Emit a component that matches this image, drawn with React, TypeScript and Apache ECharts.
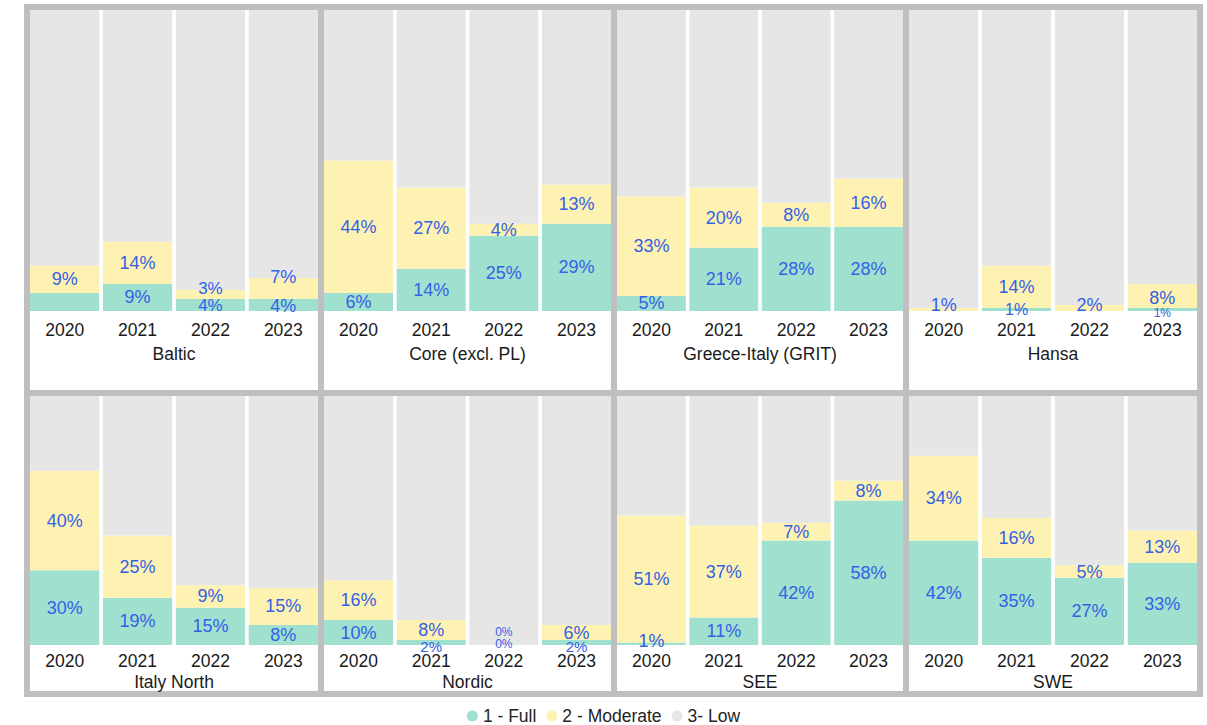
import React, { useEffect, useRef } from "react";
import * as echarts from "echarts";

// ---- data ----
const YEARS = ["2020", "2021", "2022", "2023"];
const REGIONS = [
  "Baltic",
  "Core (excl. PL)",
  "Greece-Italy (GRIT)",
  "Hansa",
  "Italy North",
  "Nordic",
  "SEE",
  "SWE",
];
const SERIES_NAMES = ["1 - Full", "2 - Moderate", "3- Low"];
// percentage of "1 - Full", per region, per year
const FULL_PCT = [
  [6, 9, 4, 4],
  [6, 14, 25, 29],
  [5, 21, 28, 28],
  [0, 1, 0, 1],
  [30, 19, 15, 8],
  [10, 2, 0, 2],
  [1, 11, 42, 58],
  [42, 35, 27, 33],
];
// percentage of "2 - Moderate", per region, per year
const MODERATE_PCT = [
  [9, 14, 3, 7],
  [44, 27, 4, 13],
  [33, 20, 8, 16],
  [1, 14, 2, 8],
  [40, 25, 9, 15],
  [16, 8, 0, 6],
  [51, 37, 7, 8],
  [34, 16, 5, 13],
];

// ---- styling / layout ----
const COLORS = ["#a0e0cf", "#fef2b2", "#e6e6e6"];
const LABEL_COLOR = "#3361e6";
const FONT = "'Liberation Sans', Arial, sans-serif";
const FRAME = "#bfbfbf";
const PANEL_X = [
  [30, 318],
  [324, 611],
  [617, 903],
  [909, 1197],
];
const ROWS = [
  { top: 10, bottom: 311, labelMargin: 10, nameY: 354 },
  { top: 396, bottom: 645, labelMargin: 7, nameY: 682 },
];
// label adjustments keyed "panel-yearIndex-series"
const LABEL_TWEAKS: Record<string, { show?: boolean; fontSize?: number; dy?: number }> = {
  "0-0-0": { show: false },
  "0-2-1": { dy: -6, fontSize: 17 },
  "0-2-0": { dy: 1, fontSize: 17 },
  "0-3-1": { dy: -11 },
  "0-3-0": { dy: 1.5 },
  "3-0-0": { show: false },
  "3-0-1": { dy: -4 },
  "3-1-0": { fontSize: 16 },
  "3-2-0": { show: false },
  "3-2-1": { dy: -3 },
  "3-3-1": { dy: 2 },
  "3-3-0": { fontSize: 12, dy: 3.5 },
  "5-1-0": { fontSize: 15, dy: 3.5 },
  "5-2-0": { fontSize: 12, dy: -1 },
  "5-2-1": { fontSize: 12, dy: -13 },
  "5-3-0": { fontSize: 15, dy: 3.5 },
  "6-0-0": { dy: -3 },
};

export default function App() {
  const ref = useRef<HTMLDivElement>(null);
  useEffect(() => {
    document.body.style.margin = "0";
    if (!ref.current) return;
    const chart = echarts.init(ref.current, undefined, { renderer: "svg" });

    const grids: any[] = [];
    const xAxes: any[] = [];
    const yAxes: any[] = [];
    const series: any[] = [];
    const frame: any[] = [];
    const names: any[] = [];

    REGIONS.forEach((region, p) => {
      const row = ROWS[Math.floor(p / 4)];
      const [x0, x1] = PANEL_X[p % 4];
      const w = x1 - x0;
      const half = ((w / 4) * 0.05) / 2;
      grids.push({
        left: x0 - half,
        width: w + 2 * half,
        top: row.top,
        height: row.bottom - row.top,
      });
      xAxes.push({
        type: "category",
        gridIndex: p,
        data: YEARS,
        axisLine: { show: false },
        axisTick: { show: false },
        axisLabel: {
          color: "#1a1a1a",
          fontSize: 17.5,
          fontFamily: FONT,
          margin: row.labelMargin,
        },
      });
      yAxes.push({
        type: "value",
        gridIndex: p,
        min: 0,
        max: 100,
        show: false,
      });
      const full = FULL_PCT[p];
      const mod = MODERATE_PCT[p];
      const low = YEARS.map((_, i) => 100 - full[i] - mod[i]);
      [full, mod, low].forEach((vals, s) => {
        series.push({
          type: "bar",
          name: SERIES_NAMES[s],
          xAxisIndex: p,
          yAxisIndex: p,
          stack: "p" + p,
          barCategoryGap: "5%",
          itemStyle: { color: COLORS[s] },
          silent: true,
          data: vals.map((v, i) => {
            const tw = LABEL_TWEAKS[`${p}-${i}-${s}`] || {};
            return {
              value: v,
              label: {
                show: s < 2 && tw.show !== false,
                position: "inside",
                formatter: "{c}%",
                color: LABEL_COLOR,
                fontSize: tw.fontSize ?? 18,
                fontFamily: FONT,
                offset: [0, tw.dy ?? 0],
              },
            };
          }),
        });
      });
      names.push({
        type: "text",
        z: 110,
        x: (x0 + x1) / 2,
        y: row.nameY,
        style: {
          text: region,
          fill: "#1a1a1a",
          font: `17.5px ${FONT}`,
          textAlign: "center",
          textVerticalAlign: "middle",
        },
      });
    });

    // frame
    frame.push({
      type: "rect",
      z: 100,
      shape: { x: 27, y: 7, width: 1173, height: 687 },
      style: { fill: "none", stroke: FRAME, lineWidth: 6 },
    });
    [321, 614, 906].forEach((x) =>
      frame.push({
        type: "line",
        z: 100,
        shape: { x1: x, y1: 7, x2: x, y2: 694 },
        style: { stroke: FRAME, lineWidth: 6 },
      })
    );
    frame.push({
      type: "line",
      z: 100,
      shape: { x1: 27, y1: 393, x2: 1200, y2: 393 },
      style: { stroke: FRAME, lineWidth: 6 },
    });

    chart.setOption({
      animation: false,
      backgroundColor: "#ffffff",
      grid: grids,
      xAxis: xAxes,
      yAxis: yAxes,
      series,
      graphic: [...frame, ...names],
      legend: {
        data: SERIES_NAMES,
        left: "center",
        top: 707,
        padding: 0,
        icon: "circle",
        itemWidth: 11,
        itemHeight: 11,
        itemGap: 10,
        textStyle: { color: "#252423", fontSize: 17.5, fontFamily: FONT, lineHeight: 18 },
      },
    });
    return () => chart.dispose();
  }, []);
  return <div ref={ref} style={{ width: 1207, height: 725 }} />;
}
